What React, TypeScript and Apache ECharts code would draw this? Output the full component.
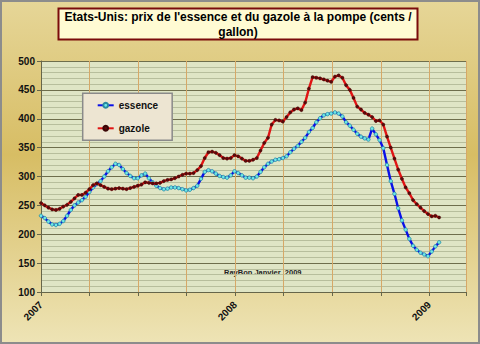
import React, { useEffect, useRef } from "react";
import * as echarts from "echarts";

// Weekly retail prices (cents / gallon), first week of Jan 2007 to end of Jan 2009
const essence = [
  232, 228, 222, 217, 216, 218, 223, 232, 242, 250,
  255, 259, 265, 273, 281, 287, 292, 300, 309, 316,
  322, 320, 313, 306, 301, 297, 297, 302, 305, 297,
  290, 284, 280, 278, 279, 281, 281, 280, 278, 276,
  277, 280, 284, 296, 308, 311, 309, 305, 301, 299,
  298, 302, 309, 306, 302, 298, 298, 297, 300, 308,
  316, 322, 326, 329, 330, 332, 335, 342, 348, 353,
  360, 367, 377, 384, 394, 401, 406, 408, 409, 411,
  409, 404, 394, 388, 381, 374, 369, 366, 364, 383,
  373, 363, 349, 320, 292, 270, 245, 224, 208, 192,
  180, 173, 168, 165, 162, 170, 179, 186,
];

const gazole = [
  254, 250, 246, 243, 242, 244, 248, 251, 256, 262,
  268, 268, 272, 278, 285, 288, 285, 282, 279, 278,
  279, 280, 279, 278, 280, 282, 284, 286, 290, 289,
  288, 288, 289, 292, 294, 295, 297, 300, 303, 305,
  305, 306, 311, 318, 332, 342, 343, 341, 337, 332,
  331, 332, 337, 335, 331, 327, 327, 329, 332, 345,
  358, 367, 390, 398, 397, 395, 403, 411, 416, 418,
  415, 428, 452, 472, 471, 470, 468, 466, 464, 473,
  475, 471, 458, 450, 436, 421, 416, 410, 407, 403,
  396, 397, 390, 369, 350, 331, 312, 296, 281, 271,
  259, 252, 246, 240, 235, 231, 232, 229,
];

const yearLabels = ["2007", "2008", "2009"];
const seriesNames = ["essence", "gazole"];
const titleLines = [
  "Etats-Unis: prix de l'essence et du gazole à la pompe (cents /",
  "gallon)",
];
const credit = "RayBon Janvier  2009";

const WEEKS_PER_YEAR = 52.18;
// x position in months since Jan 2007, one point per week
const toPoints = (vals: number[]) =>
  vals.map((v, i) => [(i * 12) / WEEKS_PER_YEAR, v]);

const FONT = '"Liberation Sans", Arial, sans-serif';

export default function App() {
  const ref = useRef<HTMLDivElement>(null);

  useEffect(() => {
    if (!ref.current) return;
    const chart = echarts.init(ref.current, null, { renderer: "svg" });
    chart.setOption({
      animation: false,
      backgroundColor: new echarts.graphic.LinearGradient(0, 0, 0, 1, [
        { offset: 0, color: "#e6d698" },
        { offset: 0.45, color: "#d7bd64" },
        { offset: 1, color: "#eee4b6" },
      ]),
      textStyle: { fontFamily: FONT },
      grid: {
        left: 41,
        top: 61,
        width: 425.5,
        height: 231,
        show: true,
        backgroundColor: "#dfe5c5",
        borderWidth: 0,
      },
      legend: {
        orient: "vertical",
        left: 82.7,
        top: 93.3,
        padding: [6, 14, 6, 14],
        itemWidth: 16,
        itemHeight: 6,
        itemGap: 11,
        backgroundColor: "#ede5d2",
        borderColor: "#8a8a8a",
        borderWidth: 1.5,
        textStyle: { fontSize: 10, fontWeight: "bold", color: "#111", fontFamily: FONT, lineHeight: 12 },
        data: seriesNames,
      },
      xAxis: {
        type: "value",
        min: 0,
        max: 26.3,
        interval: 3,
        axisLine: { show: true, lineStyle: { color: "#66664a", width: 1 } },
        axisTick: { show: true, length: 4, lineStyle: { color: "#66664a" } },
        axisLabel: {
          rotate: 45,
          margin: 11,
          fontSize: 10,
          fontWeight: "bold",
          color: "#111",
          fontFamily: FONT,
          formatter: (v: number) =>
            Math.abs(v % 12) < 1e-6 ? yearLabels[Math.round(v / 12)] || "" : "",
        },
        splitLine: { show: true, lineStyle: { color: "#d6a868", width: 1 } },
      },
      yAxis: {
        type: "value",
        min: 100,
        max: 500,
        interval: 50,
        axisLine: { show: true, lineStyle: { color: "#66664a", width: 1 } },
        axisTick: { show: true, length: 4, lineStyle: { color: "#66664a" } },
        axisLabel: {
          fontSize: 10,
          fontWeight: "bold",
          color: "#111",
          margin: 6,
          fontFamily: FONT,
        },
        splitLine: { show: true, lineStyle: { color: "#6e6e4c", width: 1 } },
        minorTick: { show: false, splitNumber: 5 },
        minorSplitLine: { show: true, lineStyle: { color: "#b7be9c", width: 1 } },
      },
      series: [
        {
          name: seriesNames[0],
          type: "line",
          data: toPoints(essence),
          symbol: "circle",
          symbolSize: 3.5,
          showAllSymbol: true,
          lineStyle: { color: "#0a10e8", width: 2.4 },
          itemStyle: { color: "#6ee8e8", borderColor: "#2a8aa0", borderWidth: 0.8 },
          z: 3,
        },
        {
          name: seriesNames[1],
          type: "line",
          data: toPoints(gazole),
          symbol: "circle",
          symbolSize: 3.2,
          showAllSymbol: true,
          lineStyle: { color: "#e01414", width: 2.4 },
          itemStyle: { color: "#5a0c0c", borderColor: "#3a0505", borderWidth: 0.4 },
          z: 4,
        },
      ],
      graphic: [
        {
          type: "rect",
          shape: { x: 58.5, y: 8.5, width: 359, height: 31 },
          style: { fill: "#fffbd3", stroke: "#7a0b0b", lineWidth: 2 },
        },
        {
          type: "text",
          x: 238,
          y: 17,
          style: {
            text: titleLines[0],
            align: "center",
            verticalAlign: "middle",
            fontSize: 12,
            fontWeight: "bold",
            fontFamily: FONT,
            fill: "#000",
          },
        },
        {
          type: "text",
          x: 238,
          y: 32,
          style: {
            text: titleLines[1],
            align: "center",
            verticalAlign: "middle",
            fontSize: 12,
            fontWeight: "bold",
            fontFamily: FONT,
            fill: "#000",
          },
        },
        {
          type: "text",
          x: 224,
          y: 272.5,
          style: {
            text: credit,
            verticalAlign: "middle",
            fontSize: 7.5,
            fontWeight: "bold",
            fontFamily: FONT,
            fill: "#222",
          },
        },
        {
          type: "rect",
          z: 100,
          shape: { x: 1, y: 1, width: 478, height: 342 },
          style: { fill: "none", stroke: "#8c8c8c", lineWidth: 2 },
        },
      ],
    });
    return () => chart.dispose();
  }, []);

  return (
    <div
      ref={ref}
      style={{ position: "fixed", left: 0, top: 0, width: 480, height: 344 }}
    />
  );
}
